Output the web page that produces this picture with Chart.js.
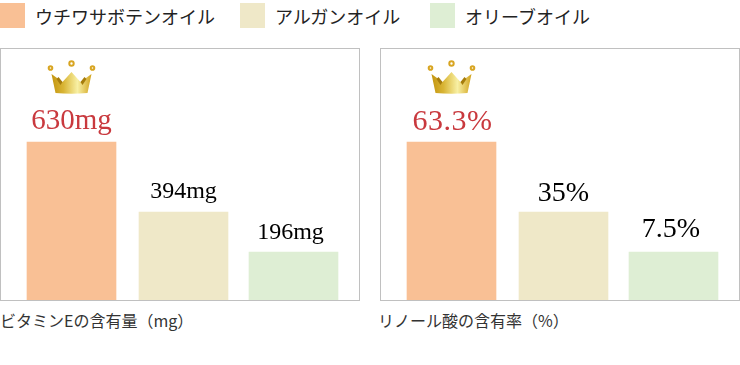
<!DOCTYPE html>
<html>
<head>
    <meta charset="utf-8">
    <title>オイル比較</title>
    <script src="https://cdn.jsdelivr.net/npm/chart.js"></script>
    <style>
        html, body { margin: 0; padding: 0; background: #fff; }
        body { width: 740px; height: 365px; overflow: hidden; position: relative; font-family: "Noto Sans CJK JP", sans-serif; }
        .swatch { position: absolute; top: 3px; width: 25px; height: 25px; }
        .legend-text { position: absolute; top: 3px; font-size: 18px; line-height: 26px; color: #222; white-space: nowrap; }
        .box { position: absolute; top: 48px; width: 358px; height: 251px; border: 1px solid #c0c0c0; }
        canvas { position: absolute; top: 49px; }
        .caption { position: absolute; top: 309px; font-size: 16px; line-height: 22px; color: #333; white-space: nowrap; }
    </style>
</head>
<body>
    <div id="legend"></div>
    <div class="box" style="left:0"></div>
    <div class="box" style="left:380px"></div>
    <canvas id="vitaminChart" width="359" height="251" style="left:0"></canvas>
    <canvas id="linoleicChart" width="359" height="251" style="left:380px"></canvas>
    <div class="caption" style="left:0">ビタミンEの含有量（mg）</div>
    <div class="caption" style="left:378px">リノール酸の含有率（%）</div>

    <script>
        const oils = ['ウチワサボテンオイル', 'アルガンオイル', 'オリーブオイル'];
        const oilColors = ['#f9c095', '#efe8c8', '#deeed4'];

        // the drawn bars are not to scale with their printed labels, so these are read off the bar heights
        const vitaminBars = [630, 350.9, 191.4];
        const vitaminLabels = ['630mg', '394mg', '196mg'];
        const linoleicBars = [63.3, 35.26, 19.23];
        const linoleicLabels = ['63.3%', '35%', '7.5%'];

        const legendLeft = [0, 240, 430];
        const legend = document.getElementById('legend');
        oils.forEach((name, i) => {
            legend.innerHTML += '<div class="swatch" style="left:' + legendLeft[i] + 'px;background:' + oilColors[i] + '"></div>'
                + '<div class="legend-text" style="left:' + (legendLeft[i] + 35) + 'px">' + name + '</div>';
        });

        function drawCrown(ctx, cx, bottom) {
            const top = bottom - 21;
            const g = ctx.createLinearGradient(cx - 20, 0, cx + 20, 0);
            g.addColorStop(0, '#c4950f');
            g.addColorStop(0.3, '#d9b535');
            g.addColorStop(0.65, '#f8f0a4');
            g.addColorStop(1, '#d2a41f');
            ctx.save();
            ctx.fillStyle = g;
            ctx.beginPath();
            ctx.moveTo(cx - 16, bottom);
            ctx.lineTo(cx - 20, top + 2);
            ctx.lineTo(cx - 9, top + 10);
            ctx.lineTo(cx, top);
            ctx.lineTo(cx + 9, top + 10);
            ctx.lineTo(cx + 20, top + 2);
            ctx.lineTo(cx + 16, bottom);
            ctx.quadraticCurveTo(cx, bottom + 1.5, cx - 16, bottom);
            ctx.fill();
            // dark folds either side of the middle point
            ctx.fillStyle = '#a67c0c';
            [-1, 1].forEach(s => {
                ctx.beginPath();
                ctx.moveTo(cx + s * 9, top + 10);
                ctx.lineTo(cx + s * 13, top + 5);
                ctx.lineTo(cx + s * 15, top + 7);
                ctx.lineTo(cx + s * 11, top + 13);
                ctx.fill();
            });
            ctx.strokeStyle = '#d8a522';
            ctx.lineWidth = 2;
            [[-21, -4], [0, -8.5], [21, -4]].forEach(d => {
                ctx.beginPath();
                ctx.arc(cx + d[0], top + d[1], d[1] < -5 ? 2.2 : 1.8, 0, Math.PI * 2);
                ctx.stroke();
            });
            ctx.restore();
        }

        // bars in the original are not quite evenly spaced
        const barNudge = {
            id: 'barNudge',
            afterDatasetsUpdate(chart) {
                chart.getDatasetMeta(0).data[1].x += 1;
            }
        };

        const barLabels = {
            id: 'barLabels',
            afterDatasetsDraw(chart, args, opts) {
                const ctx = chart.ctx;
                chart.getDatasetMeta(0).data.forEach((bar, i) => {
                    ctx.save();
                    ctx.font = opts.sizes[i] + 'px "Liberation Serif", serif';
                    ctx.letterSpacing = opts.spacing[i] + 'px';
                    ctx.fillStyle = i === 0 ? '#c9393e' : '#000';
                    ctx.textAlign = 'center';
                    ctx.textBaseline = 'alphabetic';
                    ctx.fillText(opts.labels[i], bar.x + opts.shifts[i], bar.y - opts.gaps[i]);
                    ctx.restore();
                });
                const first = chart.getDatasetMeta(0).data[0];
                drawCrown(ctx, first.x, first.y - 49);
            }
        };

        function makeChart(id, bars, labels, yMax, text) {
            new Chart(document.getElementById(id), {
                type: 'bar',
                data: {
                    labels: oils,
                    datasets: [{ data: bars, backgroundColor: oilColors, barThickness: 89 }]
                },
                options: {
                    responsive: false,
                    animation: false,
                    layout: { padding: { left: 16, right: 10, top: 0, bottom: 0 } },
                    scales: {
                        x: { display: false },
                        y: { display: false, min: 0, max: yMax }
                    },
                    plugins: {
                        legend: { display: false },
                        tooltip: { enabled: false },
                        barLabels: Object.assign({ labels: labels }, text)
                    }
                },
                plugins: [barNudge, barLabels]
            });
        }

        makeChart('vitaminChart', vitaminBars, vitaminLabels, 1000.82,
            { sizes: [29, 24, 24], gaps: [13, 14, 13], shifts: [0, 0, -3], spacing: [0, 0, 0] });
        makeChart('linoleicChart', linoleicBars, linoleicLabels, 100.56,
            { sizes: [30, 28, 28], gaps: [12, 11, 15], shifts: [1, 0, -2.5], spacing: [0.5, 0, 0] });
    </script>
</body>
</html>
